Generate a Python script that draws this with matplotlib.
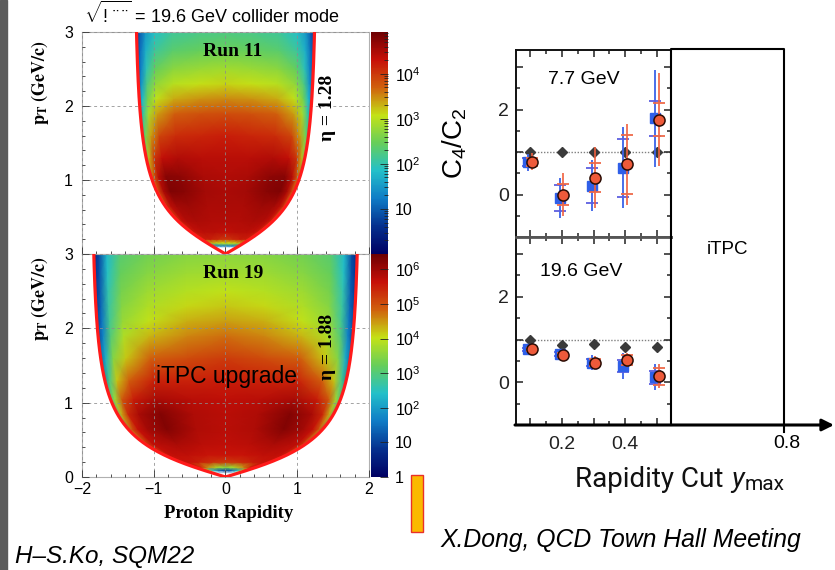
import numpy as np
import matplotlib.pyplot as plt
from matplotlib.colors import LinearSegmentedColormap, LogNorm
from matplotlib.cm import ScalarMappable
from matplotlib.patches import Rectangle, Polygon
from matplotlib.ticker import MultipleLocator, FixedLocator, FuncFormatter, LogLocator, NullFormatter

plt.rcParams['font.family'] = ['Liberation Sans', 'DejaVu Sans']
plt.rcParams['mathtext.fontset'] = 'custom'
plt.rcParams['mathtext.rm'] = 'Liberation Sans'
plt.rcParams['mathtext.it'] = 'Liberation Sans:italic'
plt.rcParams['mathtext.bf'] = 'Liberation Sans:bold'

W, H = 835, 570
M_PROTON = 0.938

# ROOT kRainBow palette
root_rainbow = ['#000063', '#05308e', '#0f7cc6', '#23c0c9', '#66ce5a',
                '#c4e216', '#d0610d', '#c71008', '#6e0002']

# ---- proton acceptance maps, log10(counts) on a (u, pT) grid ----
# u = y / y_edge(pT), fraction of the |eta| acceptance edge (mirrored for y<0)
u_cols = [0.0, 0.3, 0.6, 0.8, 0.9, 0.96, 1.04]

run11_eta = 1.28
run11_zmax = 8.5e4
run11_pt = [0.09, 0.11, 0.15, 0.2, 0.3, 0.45, 0.65, 0.85, 1.05, 1.3, 1.6, 1.9, 2.1, 2.3, 2.5, 2.75, 3.0]
run11_log = [
    [-1, -1, -1, -1, -1, -1, -1],
    [1.3, 1.3, 1.3, 1.4, 1.5, 1.6, 1.6],
    [3.1, 3.1, 3.2, 3.3, 3.3, 3.3, 3.0],
    [4.0, 4.1, 4.2, 4.2, 4.1, 3.9, 3.3],
    [4.35, 4.4, 4.4, 4.35, 4.25, 4.0, 3.3],
    [4.45, 4.45, 4.5, 4.45, 4.35, 4.1, 3.3],
    [4.5, 4.5, 4.6, 4.55, 4.4, 4.1, 3.2],
    [4.5, 4.55, 4.75, 4.8, 4.5, 4.0, 3.0],
    [4.45, 4.5, 4.7, 4.75, 4.4, 3.8, 2.7],
    [4.4, 4.4, 4.45, 4.35, 4.0, 3.3, 2.2],
    [4.2, 4.15, 4.1, 3.9, 3.4, 2.6, 1.6],
    [3.85, 3.8, 3.7, 3.4, 2.9, 2.1, 1.2],
    [3.5, 3.45, 3.35, 3.05, 2.55, 1.8, 1.0],
    [3.15, 3.1, 3.0, 2.75, 2.25, 1.5, 0.8],
    [2.85, 2.8, 2.7, 2.45, 1.95, 1.3, 0.7],
    [2.5, 2.45, 2.35, 2.1, 1.7, 1.15, 0.6],
    [2.25, 2.2, 2.1, 1.85, 1.5, 1.0, 0.5],
]

run19_eta = 1.88
run19_zmax = 2.8e6
run19_pt = [0.05, 0.09, 0.13, 0.2, 0.3, 0.45, 0.65, 0.85, 1.05, 1.3, 1.6, 1.9, 2.1, 2.3, 2.5, 2.75, 3.0]
run19_log = [
    [-1, -1, -1, -1, -1, -1, -1],
    [1.0, 1.3, 2.5, 4.0, 5.0, 5.4, 5.0],
    [3.5, 3.8, 4.6, 5.3, 5.5, 5.5, 4.8],
    [5.2, 5.3, 5.5, 5.6, 5.6, 5.5, 4.6],
    [5.6, 5.6, 5.7, 5.7, 5.65, 5.45, 4.4],
    [5.7, 5.75, 5.9, 5.8, 5.7, 5.3, 4.0],
    [5.75, 5.85, 6.25, 5.95, 5.65, 5.0, 3.4],
    [5.75, 5.85, 6.25, 5.9, 5.4, 4.4, 2.7],
    [5.7, 5.75, 5.9, 5.5, 4.9, 3.7, 2.0],
    [5.5, 5.45, 5.45, 4.85, 4.2, 2.9, 1.3],
    [5.2, 5.05, 4.85, 4.2, 3.5, 2.2, 0.8],
    [4.75, 4.6, 4.3, 3.85, 3.0, 1.7, 0.5],
    [4.45, 4.35, 4.0, 3.65, 2.8, 1.55, 0.4],
    [4.2, 4.1, 3.85, 3.5, 2.7, 1.4, 0.35],
    [4.0, 3.9, 3.7, 3.35, 2.6, 1.3, 0.3],
    [3.75, 3.7, 3.5, 3.2, 2.45, 1.2, 0.25],
    [3.55, 3.5, 3.3, 3.05, 2.35, 1.1, 0.2],
]

# ---- C4/C2 vs rapidity cut ----
ymax_cut = [0.1, 0.2, 0.3, 0.4, 0.5]

c42_77_ref = [1.0, 1.0, 1.0, 1.0, 1.0]
c42_77_blue = [0.76, -0.08, 0.21, 0.63, 1.79]
c42_77_blue_stat = [0.2, 0.48, 0.6, 0.95, 1.15]
c42_77_blue_sys = [0.1, 0.3, 0.42, 0.68, 0.41]
c42_77_red = [0.77, 0.0, 0.40, 0.71, 1.76]
c42_77_red_stat = [0.2, 0.5, 0.72, 0.95, 1.1]
c42_77_red_sys = [0.1, 0.25, 0.35, 0.69, 0.39]

c42_196_ref = [0.99, 0.87, 0.9, 0.82, 0.83]
c42_196_blue = [0.77, 0.66, 0.46, 0.38, 0.12]
c42_196_blue_stat = [0.07, 0.08, 0.18, 0.3, 0.3]
c42_196_blue_sys = [0.04, 0.05, 0.08, 0.15, 0.15]
c42_196_red = [0.77, 0.64, 0.46, 0.52, 0.14]
c42_196_red_stat = [0.06, 0.08, 0.15, 0.17, 0.28]
c42_196_red_sys = [0.04, 0.05, 0.08, 0.12, 0.2]


def frac(x0, y0, x1, y1):
    # pixel box -> figure fraction rect
    return [x0 / W, 1 - y1 / H, (x1 - x0) / W, (y1 - y0) / H]


def y_edge(pt, eta):
    mt = np.sqrt(pt ** 2 + M_PROTON ** 2)
    return np.arcsinh(pt * np.sinh(eta) / mt)


cmap = LinearSegmentedColormap.from_list('root_rainbow', root_rainbow)
cmap.set_under('white')

fig = plt.figure(figsize=(W / 100, H / 100), dpi=100)


def draw_map(box, cbox, eta, pts, logs, zmax, cticks, clabels, ylabels):
    ax = fig.add_axes(frac(*box))
    u = np.array(u_cols)
    uu = np.concatenate([-u[:0:-1], u])
    vals = np.array(logs)
    vals = np.hstack([vals[:, :0:-1], vals])
    U, P = np.meshgrid(uu, np.array(pts))
    X = U * y_edge(P, eta)
    norm = LogNorm(vmin=1, vmax=zmax)
    mesh = ax.pcolormesh(X, P, 10.0 ** vals, shading='gouraud', cmap=cmap, norm=norm, zorder=1)

    pt_line = np.linspace(0, 3.3, 400)
    ye = y_edge(pt_line, eta)
    clip = Polygon(np.column_stack([np.concatenate([ye, -ye[::-1]]),
                                    np.concatenate([pt_line, pt_line[::-1]])]),
                   closed=True, transform=ax.transData)
    mesh.set_clip_path(clip)
    ax.plot(ye, pt_line, color='#ff1a1a', lw=2.3, zorder=4)
    ax.plot(-ye, pt_line, color='#ff1a1a', lw=2.3, zorder=4)

    ax.set_xlim(-2, 2)
    ax.set_ylim(0, 3)
    ax.xaxis.set_major_locator(MultipleLocator(1))
    ax.xaxis.set_minor_locator(MultipleLocator(0.2))
    ax.yaxis.set_major_locator(MultipleLocator(1))
    ax.yaxis.set_minor_locator(MultipleLocator(0.2))
    ax.grid(True, which='major', color='#8c8c8c', ls=(0, (3, 3)), lw=0.7, alpha=0.8)
    ax.set_axisbelow(False)
    ax.tick_params(which='both', direction='in', color='#333333', width=0.6,
                   labelsize=11.5, top=False, right=False)
    ax.tick_params(which='major', length=5)
    ax.tick_params(which='minor', length=2.5)
    ax.tick_params(axis='y', pad=6.5)
    ax.tick_params(axis='x', pad=3.5)
    ax.yaxis.set_major_formatter(FuncFormatter(
        lambda v, p: f'{v:.0f}' if round(v) in ylabels else ''))
    for s in ax.spines.values():
        s.set_color('#b0b0b0')
        s.set_linewidth(0.8)

    cax = fig.add_axes(frac(*cbox))
    cb = fig.colorbar(ScalarMappable(norm=norm, cmap=cmap), cax=cax)
    cb.outline.set_visible(False)
    cax.yaxis.set_major_locator(FixedLocator(cticks))
    cax.yaxis.set_major_formatter(FuncFormatter(
        lambda v, p: clabels[cticks.index(v)] if v in cticks else ''))
    cax.yaxis.set_minor_locator(LogLocator(base=10, subs=np.arange(2, 10)))
    cax.yaxis.set_minor_formatter(NullFormatter())
    cax.tick_params(which='both', direction='in', color='#222222', width=0.6,
                    labelsize=11.5, pad=5)
    cax.tick_params(which='major', length=6)
    cax.tick_params(which='minor', length=3)
    return ax


ax11 = draw_map((82, 32, 369, 254), (371, 32, 388, 254), run11_eta, run11_pt, run11_log,
                run11_zmax, [10, 100, 1000, 10000], ['10', '$10^{2}$', '$10^{3}$', '$10^{4}$'],
                [1, 2, 3])
ax11.tick_params(axis='x', labelbottom=False)
ax19 = draw_map((82, 254, 369, 477), (371, 254, 388, 477), run19_eta, run19_pt, run19_log,
                run19_zmax, [1, 10, 100, 1e3, 1e4, 1e5, 1e6],
                ['1', '10', '$10^{2}$', '$10^{3}$', '$10^{4}$', '$10^{5}$', '$10^{6}$'],
                [0, 1, 2, 3])


def draw_c42(box, ref, blue, bstat, bsys, red, rstat, rsys, show_x):
    ax = fig.add_axes(frac(*box))
    x = np.array(ymax_cut)
    ax.axhline(1.0, color='#808080', ls=(0, (1, 1.2)), lw=1.0, zorder=1)
    ax.errorbar(x, ref, yerr=0.04, xerr=0.009, fmt='D', ms=5.5, color='#3a3a3a',
                elinewidth=1.8, capsize=0, zorder=2)
    xb = x - 0.006
    ax.errorbar(xb, blue, yerr=bstat, fmt='none', ecolor='#3a62e8', elinewidth=1.3, zorder=3)
    ax.errorbar(xb, blue, yerr=bsys, fmt='none', ecolor='#5d5fe0', elinewidth=0,
                capsize=4, capthick=1.3, zorder=3)
    ax.plot(xb, blue, 's', ms=6.5, color='#2f5fe8', zorder=4)
    xr = x + 0.005
    ax.errorbar(xr, red, yerr=rstat, fmt='none', ecolor='#f0603e', elinewidth=1.2, zorder=5)
    ax.errorbar(xr, red, yerr=rsys, fmt='none', ecolor='#ee6a4a', elinewidth=0,
                capsize=4, capthick=1.3, zorder=5)
    ax.plot(xr, red, 'o', ms=8, mfc='#ee5a3a', mec='#2a0c04', mew=1.1, zorder=6)

    ax.set_xlim(0.056, 0.544)
    ax.set_ylim(-1.0, 3.4)
    ax.xaxis.set_major_locator(MultipleLocator(0.1))
    ax.xaxis.set_minor_locator(MultipleLocator(0.05))
    ax.yaxis.set_major_locator(MultipleLocator(1))
    ax.yaxis.set_minor_locator(MultipleLocator(0.5))
    ax.xaxis.set_major_formatter(FuncFormatter(
        lambda v, p: f'{v:.1f}' if round(v, 2) in (0.2, 0.4) else ''))
    ax.yaxis.set_major_formatter(FuncFormatter(
        lambda v, p: f'{v:.0f}' if round(v) in (0, 2) else ''))
    ax.tick_params(which='both', direction='in', top=True, right=True, color='#222222',
                   width=1.1, labelsize=14, labelcolor='#222222')
    ax.tick_params(which='major', length=5)
    ax.tick_params(which='minor', length=3)
    ax.tick_params(axis='y', pad=5)
    ax.tick_params(axis='x', pad=8, labelbottom=show_x)
    for s in ax.spines.values():
        s.set_linewidth(1.4)
        s.set_color('#111111')
    return ax


axa = draw_c42((516, 50, 671, 237), c42_77_ref, c42_77_blue, c42_77_blue_stat, c42_77_blue_sys,
               c42_77_red, c42_77_red_stat, c42_77_red_sys, False)
axa.spines['bottom'].set_color('#555555')
axa.spines['bottom'].set_linewidth(2)
axb = draw_c42((516, 237, 671, 425), c42_196_ref, c42_196_blue, c42_196_blue_stat,
               c42_196_blue_sys, c42_196_red, c42_196_red_stat, c42_196_red_sys, True)
axb.spines['top'].set_color('#555555')
axb.spines['top'].set_linewidth(2)
axb.spines['bottom'].set_visible(False)

# ---- overlay in pixel coordinates for annotations ----
ov = fig.add_axes([0, 0, 1, 1], zorder=10)
ov.set_xlim(0, W)
ov.set_ylim(H, 0)
ov.axis('off')

ov.add_patch(Rectangle((0, 0), 7, H, color='#5c5c5c'))
ov.add_patch(Rectangle((411, 475), 12, 57, facecolor='#fbb900', edgecolor='#e8302a', lw=1.0))

ov.text(84, 14, r'$\sqrt{\mathrm{!\,¨\,¨}}$ = 19.6 GeV collider mode', fontsize=13,
        ha='left', va='center')
serif = ['Liberation Serif', 'DejaVu Serif']
ov.text(233, 52, 'Run 11', family=serif, weight='bold', fontsize=14, ha='center', va='center')
ov.text(233, 273, 'Run 19', family=serif, weight='bold', fontsize=14, ha='center', va='center')
ov.text(328, 108, 'η = 1.28', family=serif, weight='bold', fontsize=14, rotation=90,
        ha='center', va='center')
ov.text(328, 347, 'η = 1.88', family=serif, weight='bold', fontsize=14, rotation=90,
        ha='center', va='center')
ov.text(227, 376, 'iTPC upgrade', fontsize=16.5, ha='center', va='center')
for ytop in (40, 256):
    ov.text(40, ytop, r'$\mathbf{p_{T}\ (GeV/c)}$', math_fontfamily='stix', fontsize=13,
            rotation=90, ha='center', va='top')
ov.text(229, 513, 'Proton Rapidity', family=serif, weight='bold', fontsize=13.5,
        ha='center', va='center')
ov.text(15, 557, 'H–S.Ko, SQM22', fontsize=17.5, style='italic', ha='left', va='center')

ov.text(548, 79, '7.7 GeV', fontsize=14, ha='left', va='center')
ov.text(540, 271, '19.6 GeV', fontsize=14, ha='left', va='center')
ov.text(455, 143, r'C$_4$/C$_2$', fontsize=20, rotation=90, ha='center', va='center')
ov.plot([671, 671, 784, 784], [425, 49, 49, 432], color='black', lw=1.5)
ov.annotate('', xy=(834, 425), xytext=(515, 425),
            arrowprops=dict(arrowstyle='-|>,head_length=0.7,head_width=0.35', lw=2.2,
                            color='black', shrinkA=0, shrinkB=0))
ov.text(727, 249, 'iTPC', fontsize=13.5, ha='center', va='center')
ov.text(787, 443, '0.8', fontsize=14, ha='center', va='center')
roboto = ['Roboto', 'Liberation Sans']
ov.text(575, 487, 'Rapidity Cut', family=roboto, fontsize=20, ha='left', va='baseline',
        color='#111111')
ov.text(731, 487, 'y', family=roboto, style='italic', fontsize=20, ha='left', va='baseline',
        color='#111111')
ov.text(745, 490, 'max', family=roboto, fontsize=15, ha='left', va='baseline',
        color='#111111')
ov.text(440, 540, 'X.Dong, QCD Town Hall Meeting', fontsize=17.8, style='italic',
        ha='left', va='center')

fig.savefig('out.png', dpi=100)
